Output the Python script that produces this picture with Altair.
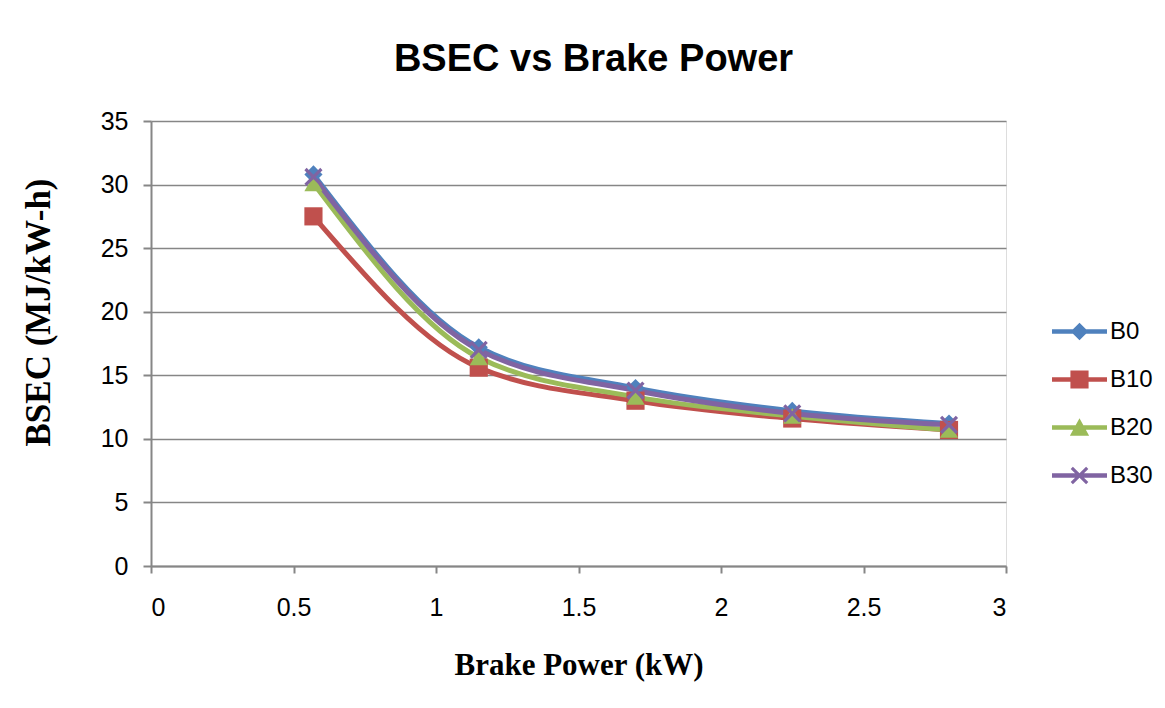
import altair as alt
import pandas as pd

power = [0.57, 1.15, 1.7, 2.25, 2.8]
b0 = [30.8, 17.2, 14.0, 12.2, 11.2]
b10 = [27.5, 15.6, 13.0, 11.6, 10.7]
b20 = [30.1, 16.4, 13.3, 11.8, 10.7]
b30 = [30.6, 17.0, 13.8, 12.0, 11.1]
series = ["B0", "B10", "B20", "B30"]
colors = ["#4F81BD", "#C0504D", "#9BBB59", "#8064A2"]

rows = []
for name, vals in zip(series, [b0, b10, b20, b30]):
    for x, y in zip(power, vals):
        rows.append({"Power": x, "BSEC": y, "Series": name, "order": series.index(name)})
df = pd.DataFrame(rows)

SANS = "Liberation Sans, Arial, sans-serif"
SERIF = "Liberation Serif, Times New Roman, serif"

# X marker as filled polygon
k = 0.25
xpts = [(-1, -1 + k), (-1 + k, -1), (0, -k), (1 - k, -1), (1, -1 + k), (k, 0),
        (1, 1 - k), (1 - k, 1), (0, k), (-1 + k, 1), (-1, 1 - k), (-k, 0)]


def poly(pts, s=1.0):
    return "M" + "L".join(f"{px*s:.3f},{py*s:.3f}" for px, py in pts) + "Z"


x_plain = poly(xpts)
line_rect = "M-1,-0.085L1,-0.085L1,0.085L-1,0.085Z"
m = 0.32
leg_paths = [
    line_rect + f"M{-m},0L0,{-m}L{m},0L0,{m}Z",
    line_rect + "M-0.33,-0.33L0.33,-0.33L0.33,0.33L-0.33,0.33Z",
    line_rect + "M0,-0.34L0.35,0.3L-0.35,0.3Z",
    line_rect + poly(xpts, m),
]

xenc = alt.X("Power:Q", scale=alt.Scale(domain=[0, 3], nice=False),
             axis=alt.Axis(values=[0, 0.5, 1, 1.5, 2, 2.5, 3], format="~g", grid=False,
                           title="Brake Power (kW)", titleFont=SERIF, titleFontSize=31,
                           titleFontWeight="bold", titleColor="black",
                           titleBaseline="alphabetic", titleY=108,
                           labelFont=SANS, labelFontSize=25, labelColor="black",
                           labelPadding=22, tickSize=7, tickColor="#868686",
                           domainColor="#868686", domainWidth=2, tickWidth=2))
yenc = alt.Y("BSEC:Q", scale=alt.Scale(domain=[0, 35], nice=False),
             axis=alt.Axis(values=[0, 5, 10, 15, 20, 25, 30, 35], grid=True,
                           gridColor="#868686", gridWidth=1.5,
                           title="BSEC (MJ/kW-h)", titleFont=SERIF, titleFontSize=35,
                           titleFontWeight="bold", titleColor="black",
                           titleAngle=270, titleBaseline="middle", titleAlign="center",
                           titleX=-113, titleY=191,
                           labelFont=SANS, labelFontSize=25, labelColor="black",
                           labelPadding=15, tickSize=8, tickColor="#868686",
                           domainColor="#868686", domainWidth=2, tickWidth=2))

cscale = alt.Scale(domain=series, range=colors)

lines = alt.Chart(df).mark_line(interpolate="monotone", strokeWidth=5).encode(
    x=xenc, y=yenc,
    color=alt.Color("Series:N", scale=cscale, legend=None),
    order="order:Q",
)

points = alt.Chart(df).mark_point(filled=True, opacity=1, size=330).encode(
    x="Power:Q", y="BSEC:Q",
    color=alt.Color("Series:N", scale=cscale, legend=None),
    shape=alt.Shape("Series:N", scale=alt.Scale(domain=series,
                    range=["diamond", "square", "triangle-up", x_plain]), legend=None),
    order="order:Q",
)

# legend-only layer: no rows drawn, the legend comes from the explicit scale domains
legend_layer = alt.Chart(df).transform_filter(alt.datum.BSEC < 0).mark_point(
    filled=True, opacity=1, size=330).encode(
    x="Power:Q", y="BSEC:Q",
    color=alt.Color("Series:N", scale=cscale, legend=alt.Legend(
        title=None, orient="none", legendX=901, legendY=183, padding=0,
        labelFont=SANS, labelFontSize=24, labelColor="black", labelOffset=3,
        symbolSize=3025, symbolOpacity=1, symbolStrokeWidth=0, rowPadding=8)),
    shape=alt.Shape("Series:N", scale=alt.Scale(domain=series, range=leg_paths)),
)

chart = alt.layer(lines, points, legend_layer).resolve_scale(
    color="independent", shape="independent"
).properties(
    width=855, height=445,
    title=alt.Title("BSEC vs Brake Power", font="Liberation Sans", fontSize=38,
                    fontWeight="bold", color="black", anchor="middle", dx=15, offset=30),
    padding={"left": 143, "top": 113, "right": 150, "bottom": 132},
    autosize=alt.AutoSizeParams(type="none"),
).configure_view(stroke=None).configure(background="white")

chart.save("out.html", embed_options={"renderer": "svg", "actions": False})
